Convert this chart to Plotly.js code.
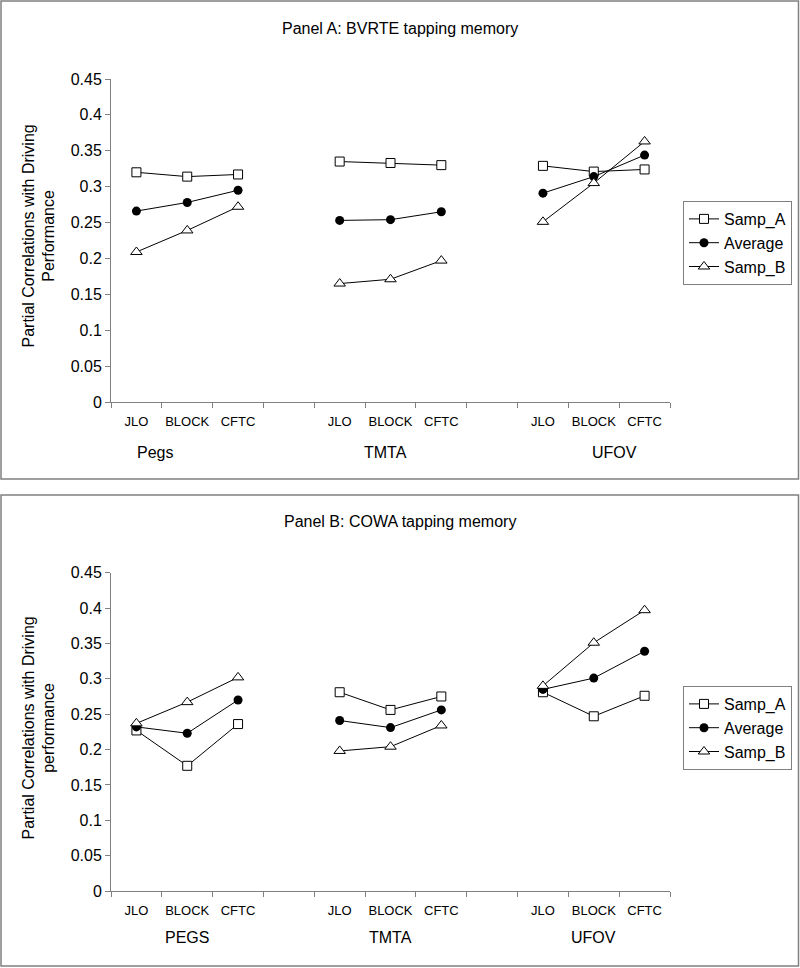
<!DOCTYPE html>
<html>
<head>
<meta charset="utf-8">
<script src="https://cdn.plot.ly/plotly-3.0.1.min.js"></script>
<style>html,body{margin:0;padding:0;background:#fff;}#chart{width:800px;height:968px;}</style>
</head>
<body>
<div id="chart"></div>
<script>
// ---- data ----
const categories = ["JLO", "BLOCK", "CFTC"];
const groupsA = ["Pegs", "TMTA", "UFOV"];
const groupsB = ["PEGS", "TMTA", "UFOV"];
const seriesNames = ["Samp_A", "Average", "Samp_B"];
const titleA = "Panel A: BVRTE tapping memory";
const titleB = "Panel B: COWA tapping memory";
const yTitleA = "Partial Correlations with Driving<br>Performance";
const yTitleB = "Partial Correlations with Driving<br>performance";

// values in order Pegs/PEGS(JLO,BLOCK,CFTC), TMTA(...), UFOV(...)
const panelA_SampA   = [0.320, 0.314, 0.317, 0.335, 0.333, 0.330, 0.329, 0.321, 0.324];
const panelA_Average = [0.266, 0.278, 0.295, 0.253, 0.254, 0.265, 0.291, 0.314, 0.344];
const panelA_SampB   = [0.209, 0.239, 0.272, 0.165, 0.171, 0.197, 0.251, 0.305, 0.363];
const panelB_SampA   = [0.227, 0.177, 0.236, 0.281, 0.256, 0.275, 0.281, 0.247, 0.276];
const panelB_Average = [0.232, 0.223, 0.270, 0.241, 0.231, 0.256, 0.285, 0.301, 0.339];
const panelB_SampB   = [0.237, 0.267, 0.302, 0.198, 0.204, 0.234, 0.290, 0.351, 0.397];

// ---- build category axes (with an empty slot between groups) ----
function buildAxis(groups) {
  const keys = [], labels = [], groupCenter = [];
  groups.forEach((g, gi) => {
    categories.forEach(c => { keys.push(g + " " + c); labels.push(c); });
    groupCenter.push(keys.length - 2);
    if (gi < groups.length - 1) { keys.push("gap" + gi); labels.push(""); }
  });
  return {keys, labels, groupCenter};
}
function expand(vals) {
  const out = [];
  vals.forEach((v, i) => {
    out.push(v);
    if ((i + 1) % 3 === 0 && i < vals.length - 1) out.push(null);
  });
  return out;
}
const axA = buildAxis(groupsA);
const axB = buildAxis(groupsB);

const FONT = "Liberation Sans, Arial, sans-serif";
const GRAY = "#808080";

const markerStyles = [
  {symbol: "square", size: 9, color: "#ffffff", line: {color: "#000000", width: 1}},
  {symbol: "circle", size: 9, color: "#000000", line: {color: "#000000", width: 0}},
  {symbol: "triangle-up", size: 10, color: "#ffffff", line: {color: "#000000", width: 1}}
];

function makeTraces(valsList, ax, xa, ya, legendId) {
  return valsList.map((vals, i) => ({
    type: "scatter", mode: "lines+markers",
    name: seriesNames[i],
    x: ax.keys, y: expand(vals),
    xaxis: xa, yaxis: ya, legend: legendId,
    connectgaps: false,
    line: {color: "#000000", width: 1},
    marker: markerStyles[i],
    hoverinfo: "x+y+name"
  }));
}

const data = [].concat(
  makeTraces([panelA_SampA, panelA_Average, panelA_SampB], axA, "x", "y", "legend"),
  makeTraces([panelB_SampA, panelB_Average, panelB_SampB], axB, "x2", "y2", "legend2")
);

const H = 968, W = 800;
const py = p => 1 - p / H;
const px = p => p / W;

function xAxisDef(ax, anchor) {
  return {
    domain: [px(111), px(670)], anchor: anchor,
    type: "category", categoryorder: "array", categoryarray: ax.keys,
    range: [-0.5, ax.keys.length - 0.5],
    tickmode: "array", tickvals: ax.keys, ticktext: ax.labels,
    tickson: "boundaries", ticks: "outside", ticklen: 5, tickcolor: GRAY,
    tickangle: 0,
    showline: true, linecolor: GRAY, linewidth: 1, showgrid: false, zeroline: false,
    tickfont: {family: FONT, size: 13, color: "#000"}, ticklabelstandoff: 7,
    fixedrange: true
  };
}
function yAxisDef(domain, anchor) {
  return {
    domain: domain, anchor: anchor, range: [0, 0.45], tick0: 0, dtick: 0.05,
    ticks: "outside", ticklen: 5, tickcolor: GRAY,
    showline: true, linecolor: GRAY, linewidth: 1, showgrid: false, zeroline: false,
    tickfont: {family: FONT, size: 16, color: "#000"}, fixedrange: true
  };
}

const legendDef = top => ({
  x: px(683), y: py(top), xanchor: "left", yanchor: "top",
  bgcolor: "#ffffff", bordercolor: GRAY, borderwidth: 1,
  font: {family: FONT, size: 16, color: "#000"},
  tracegroupgap: 0, itemwidth: 30
});

const annotations = [
  {text: titleA, xref: "paper", yref: "paper", x: 0.5, y: py(28), xanchor: "center", yanchor: "middle", showarrow: false, font: {family: FONT, size: 16, color: "#000"}},
  {text: titleB, xref: "paper", yref: "paper", x: 0.5, y: py(521), xanchor: "center", yanchor: "middle", showarrow: false, font: {family: FONT, size: 16, color: "#000"}},
  {text: yTitleA, xref: "paper", yref: "paper", x: px(38.5), y: py(236), xanchor: "center", yanchor: "middle", textangle: -90, showarrow: false, font: {family: FONT, size: 16, color: "#000"}},
  {text: yTitleB, xref: "paper", yref: "paper", x: px(38.5), y: py(728), xanchor: "center", yanchor: "middle", textangle: -90, showarrow: false, font: {family: FONT, size: 16, color: "#000"}}
];
const groupOffsetsA = [-0.64, -0.1, 0.4];
groupsA.forEach((g, i) => annotations.push({
  text: g, xref: "x", yref: "paper", x: axA.groupCenter[i] + groupOffsetsA[i], y: py(452),
  xanchor: "center", yanchor: "middle", showarrow: false, font: {family: FONT, size: 16, color: "#000"}
}));
groupsB.forEach((g, i) => annotations.push({
  text: g, xref: "x2", yref: "paper", x: axB.groupCenter[i], y: py(937),
  xanchor: "center", yanchor: "middle", showarrow: false, font: {family: FONT, size: 16, color: "#000"}
}));

const shapes = [
  {type: "rect", xref: "paper", yref: "paper", x0: px(1), x1: px(798.5), y0: py(1), y1: py(479), line: {color: GRAY, width: 1.5}, fillcolor: "rgba(0,0,0,0)"},
  {type: "rect", xref: "paper", yref: "paper", x0: px(1), x1: px(798.5), y0: py(495), y1: py(966), line: {color: GRAY, width: 1.5}, fillcolor: "rgba(0,0,0,0)"}
];

const layout = {
  width: W, height: H, margin: {l: 0, r: 0, t: 0, b: 0},
  paper_bgcolor: "#ffffff", plot_bgcolor: "#ffffff",
  font: {family: FONT, color: "#000"},
  xaxis: xAxisDef(axA, "y"),
  yaxis: yAxisDef([py(402), py(79)], "x"),
  xaxis2: xAxisDef(axB, "y2"),
  yaxis2: yAxisDef([py(891), py(572.7)], "x2"),
  legend: legendDef(201),
  legend2: legendDef(686),
  showlegend: true,
  annotations: annotations,
  shapes: shapes
};

Plotly.newPlot("chart", data, layout, {displayModeBar: false, staticPlot: true});
</script>
</body>
</html>
